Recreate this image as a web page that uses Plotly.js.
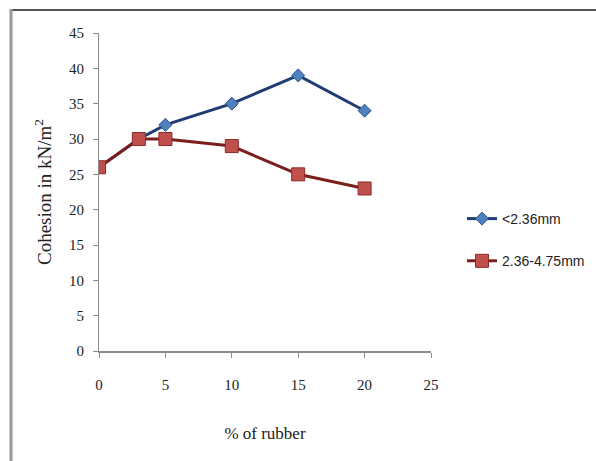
<!DOCTYPE html>
<html>
<head>
<meta charset="utf-8">
<script src="https://cdn.plot.ly/plotly-3.0.1.min.js"></script>
<style>
  html, body { margin: 0; padding: 0; background: #fff; }
  #chart { width: 596px; height: 461px; }
</style>
</head>
<body>
<div id="chart"></div>
<script>
// Rubber content (%) and measured cohesion (kN/m²) for two rubber sizes
const rubberPct = [0, 3, 5, 10, 15, 20];
const cohesionFine = [26, 30, 32, 35, 39, 34];      // <2.36mm
const cohesionCoarse = [26, 30, 30, 29, 25, 23];    // 2.36-4.75mm
const seriesNames = ['<2.36mm', '2.36-4.75mm'];
const xTicks = [0, 5, 10, 15, 20, 25];
const yTicks = [0, 5, 10, 15, 20, 25, 30, 35, 40, 45];

const W = 596, H = 461;
const M = { l: 99, r: 165, t: 33, b: 110, autoexpand: false };
const pw = W - M.l - M.r, ph = H - M.t - M.b;
const px = v => (v - M.l) / pw;          // page x -> paper x
const py = v => (H - M.b - v) / ph;      // page y -> paper y

const traces = [
  {
    x: rubberPct, y: cohesionFine, name: seriesNames[0], legendgroup: 'fine',
    type: 'scatter', mode: 'lines+markers',
    line: { color: '#1f3c74', width: 3 },
    marker: { symbol: 'diamond', size: 10, color: '#4f81bd', line: { color: '#2c5590', width: 1 } }
  },
  {
    x: rubberPct, y: cohesionCoarse, name: seriesNames[1], legendgroup: 'coarse',
    type: 'scatter', mode: 'lines+markers',
    line: { color: '#7a1f1c', width: 3 },
    marker: { symbol: 'square', size: 13, color: '#c0504d', line: { color: '#8c2a27', width: 1 } }
  }
];

const tickFont = { family: 'Liberation Serif, serif', size: 15, color: '#222' };

const layout = {
  width: W, height: H,
  margin: M,
  paper_bgcolor: '#fff', plot_bgcolor: '#fff',
  showlegend: true,
  legend: {
    x: px(462), y: py(203), xanchor: 'left', yanchor: 'top',
    font: { family: 'Liberation Sans Narrow, Liberation Sans, sans-serif', size: 14, color: '#222' },
    itemwidth: 30, tracegroupgap: 21,
    bgcolor: 'rgba(0,0,0,0)'
  },
  xaxis: {
    range: [0, 25], tickvals: xTicks, ticktext: xTicks.map(String),
    showgrid: false, zeroline: false,
    showline: true, linecolor: '#8c8c8c', linewidth: 2,
    ticks: 'outside', ticklen: 5, tickcolor: '#8c8c8c', tickwidth: 1,
    ticklabelstandoff: 14,
    tickfont: tickFont,
    title: { text: '% of rubber', font: { family: 'Liberation Serif, serif', size: 17, color: '#222' }, standoff: 35 }
  },
  yaxis: {
    range: [0, 45], tickvals: yTicks, ticktext: yTicks.map(String),
    showgrid: false, zeroline: false,
    showline: true, linecolor: '#8c8c8c', linewidth: 1,
    ticks: 'outside', ticklen: 5, tickcolor: '#8c8c8c', tickwidth: 1,
    ticklabelstandoff: 6,
    tickfont: tickFont,
    title: { text: 'Cohesion in kN/m<sup>2</sup>', font: { family: 'Liberation Serif, serif', size: 19, color: '#222' }, standoff: 12 }
  },
  shapes: [
    { type: 'line', xref: 'paper', yref: 'paper', x0: px(10), x1: px(W + 5), y0: py(10), y1: py(10),
      line: { color: '#555', width: 2 } },
    { type: 'line', xref: 'paper', yref: 'paper', x0: px(11), x1: px(11), y0: py(9), y1: py(H + 5),
      line: { color: '#999', width: 3 } }
  ]
};

Plotly.newPlot('chart', traces, layout, { displayModeBar: false, staticPlot: true });
</script>
</body>
</html>
